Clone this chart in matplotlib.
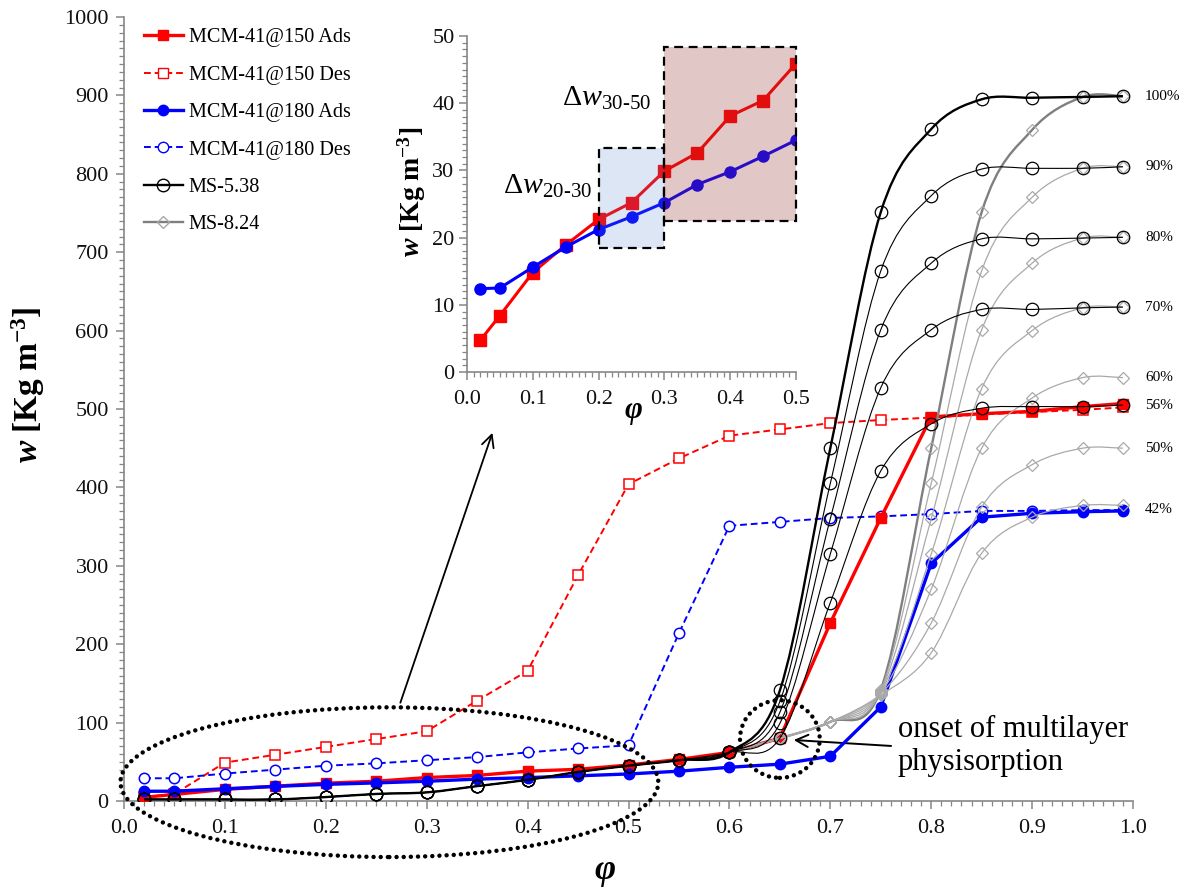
import matplotlib
matplotlib.use('Agg')
import matplotlib.pyplot as plt
import numpy as np
from matplotlib.path import Path
from matplotlib.patches import PathPatch, Ellipse, Rectangle
from matplotlib.lines import Line2D
from matplotlib.ticker import MultipleLocator

plt.rcParams['font.family'] = ['Liberation Serif', 'DejaVu Serif']
plt.rcParams['mathtext.fontset'] = 'custom'
plt.rcParams['mathtext.rm'] = 'Liberation Serif'
plt.rcParams['mathtext.it'] = 'Liberation Serif:italic'
plt.rcParams['mathtext.bf'] = 'Liberation Serif:bold'
plt.rcParams['mathtext.bfit'] = 'Liberation Serif:bold:italic'

# relative humidity (phi) grid
phi = [0.02, 0.05, 0.10, 0.15, 0.20, 0.25, 0.30, 0.35, 0.40, 0.45, 0.50,
       0.55, 0.60, 0.65, 0.70, 0.75, 0.80, 0.85, 0.90, 0.95, 0.99]

# MCM-41 isotherms [Kg m-3]
mcm150_ads = [4.7, 8.4, 14.8, 18.9, 22.7, 25.2, 29.9, 32.6, 38.1, 40.4, 45.9,
              53, 62, 80, 227, 361, 490, 494, 497, 503, 507]
mcm150_des = [5, 9, 49, 59, 69, 79, 89, 128, 166, 288, 404,
              437, 466, 474, 482, 486, 489, 493, 496, 499, 502]
mcm180_ads = [12.4, 12.5, 15.6, 18.6, 21.2, 23.1, 25.2, 27.9, 29.8, 32.1, 34.5,
              38, 43, 47, 57, 120, 303, 362, 367, 369, 370]
mcm180_des = [29, 29, 35, 40, 45, 48, 52, 56, 62, 67, 71,
              214, 351, 356, 361, 363, 366, 370, 370, 371, 371]

# MS-5.38: common branch up to phi=0.60, then one branch per RH level
ms538_low = [2, 2, 2, 2, 5, 9, 11, 19, 27, 37, 45, 52, 62]
ms538_levels = ['100%', '90%', '80%', '70%', '56%']
ms538_high = [
    [141, 450, 751, 857, 895, 897, 898, 899],
    [127, 405, 676, 772, 806, 807, 807, 809],
    [113, 360, 601, 686, 717, 717, 718, 719],
    [99, 315, 527, 601, 627, 627, 629, 630],
    [80, 253, 421, 481, 501, 503, 503, 505],
]

# MS-8.24 from phi=0.60 on
ms824_levels = ['100%', '90%', '80%', '70%', '60%', '50%', '42%']
ms824 = [
    [62, 80, 101, 142, 450, 751, 856, 898, 899],
    [62, 80, 101, 141, 405, 676, 770, 807, 809],
    [62, 80, 101, 140, 360, 601, 686, 718, 719],
    [62, 80, 101, 139, 315, 526, 600, 629, 630],
    [62, 80, 101, 138, 270, 450, 514, 540, 540],
    [62, 80, 101, 137, 227, 375, 429, 450, 450],
    [62, 80, 101, 135, 189, 316, 362, 377, 377],
]

pct_labels = ['100%', '90%', '80%', '70%', '60%', '56%', '50%', '42%']

RED = '#ff0000'
BLUE = '#0000ff'
AXC = '#868686'


def smooth_path(xs, ys):
    # excel-like smoothed line: cubic bezier through the points
    pts = np.column_stack([xs, ys]).astype(float)
    n = len(pts)
    verts = [pts[0]]
    codes = [Path.MOVETO]
    for i in range(n - 1):
        p0 = pts[max(i - 1, 0)]
        p1 = pts[i]
        p2 = pts[i + 1]
        p3 = pts[min(i + 2, n - 1)]
        verts += [p1 + (p2 - p0) / 6, p2 - (p3 - p1) / 6, p2]
        codes += [Path.CURVE4] * 3
    return Path(verts, codes)


def style_axes(a, ymajor, yminor, xmajor, xminor):
    for s in ['top', 'right']:
        a.spines[s].set_visible(False)
    for s in ['left', 'bottom']:
        a.spines[s].set_color(AXC)
        a.spines[s].set_linewidth(1.2)
    a.xaxis.set_major_locator(MultipleLocator(xmajor))
    a.xaxis.set_minor_locator(MultipleLocator(xminor))
    a.yaxis.set_major_locator(MultipleLocator(ymajor))
    a.yaxis.set_minor_locator(MultipleLocator(yminor))
    a.tick_params(which='major', direction='out', length=6, width=1.1,
                  color=AXC, labelsize=16, labelcolor='#111111')
    a.tick_params(which='minor', direction='out', length=3.5, width=0.9, color=AXC)
    a.tick_params(axis='x', pad=7)
    a.tick_params(axis='y', pad=5)


fig = plt.figure(figsize=(11.92, 8.88), dpi=100)
ax = fig.add_axes([124 / 1192, 87 / 888, 1009 / 1192, 784 / 888])
ax.set_xlim(0, 1)
ax.set_ylim(0, 1000)
style_axes(ax, 100, 10, 0.1, 0.01)
ax.xaxis.set_major_formatter(matplotlib.ticker.FormatStrFormatter('%.1f'))

# MCM-41 series
ax.plot(phi, mcm150_des, color=RED, lw=1.4, ls=(0, (3.5, 2)), marker='s', ms=7.5,
        mfc='white', mec=RED, mew=1.1, zorder=3)
ax.plot(phi, mcm180_des, color=BLUE, lw=1.4, ls=(0, (3.5, 2)), marker='o', ms=7.5,
        mfc='white', mec=BLUE, mew=1.1, zorder=3)
ax.plot(phi, mcm150_ads, color=RED, lw=2.4, marker='s', ms=7.5, zorder=4)
ax.plot(phi, mcm180_ads, color=BLUE, lw=2.4, marker='o', ms=7.5, zorder=4)

# MS-8.24 smoothed curves
phi_hi = phi[12:]
for i, ys in enumerate(ms824):
    main = i == 0
    col = '#7f7f7f' if main else '#a9a9a9'
    ax.add_patch(PathPatch(smooth_path(phi_hi, ys), fill=False, ec=col,
                           lw=1.7 if main else 0.9, zorder=5))
    ax.plot(phi_hi[1:], ys[1:], ls='none', marker='D', ms=6.5, mfc='none',
            mec='#a9a9a9', mew=0.9, zorder=5)

# MS-5.38 smoothed curves
for i, hi in enumerate(ms538_high):
    ys = ms538_low + hi
    main = i == 0
    ax.add_patch(PathPatch(smooth_path(phi, ys), fill=False, ec='black',
                           lw=1.7 if main else 0.8, zorder=6))
    ax.plot(phi, ys, ls='none', marker='o', ms=9, mfc='none', mec='black',
            mew=0.9, zorder=6)

# RH labels at the right end of the curves
ends = {}
for lab, hi in zip(ms538_levels, ms538_high):
    ends[lab] = hi[-1]
for lab, ys in zip(ms824_levels, ms824):
    ends.setdefault(lab, ys[-1])
for lab in pct_labels:
    yv = ends[lab] - (5 if lab == '42%' else 0)
    ax.text(1.012, yv, lab, fontsize=11, ha='left', va='center', clip_on=False)

# annotations
ax.add_patch(Ellipse((0.263, 24), 0.533, 191, fill=False, ec='black', lw=3.2,
                     ls=(0, (0.01, 1.6)), capstyle='round', clip_on=False, zorder=7))
ax.add_patch(Ellipse((0.65, 79), 0.079, 99, fill=False, ec='black', lw=3.2,
                     ls=(0, (0.01, 1.6)), capstyle='round', clip_on=False, zorder=7))
ax.annotate('', xy=(0.366, 473), xytext=(0.273, 122),
            arrowprops=dict(arrowstyle='->', lw=1.3, color='black', mutation_scale=22))
ax.annotate('', xy=(0.661, 78), xytext=(0.763, 70),
            arrowprops=dict(arrowstyle='->', lw=1.4, color='black', mutation_scale=22))
ax.text(0.767, 70, 'onset of multilayer\nphysisorption', fontsize=22,
        ha='left', va='center', linespacing=1.2)

fig.text(605 / 1192, 1 - 870 / 888, 'φ', fontsize=26, fontweight='bold',
         fontstyle='italic', ha='center', va='center')
fig.text(28 / 1192, 1 - 385 / 888, r'$\mathbfit{w}\ \mathbf{[Kg\ m^{-3}]}$',
         fontsize=24, rotation=90, ha='center', va='center')

handles = [
    Line2D([], [], color=RED, lw=2.4, marker='s', ms=7.5),
    Line2D([], [], color=RED, lw=1.4, ls=(0, (3.5, 2)), marker='s', ms=7.5,
           mfc='white', mec=RED),
    Line2D([], [], color=BLUE, lw=2.4, marker='o', ms=7.5),
    Line2D([], [], color=BLUE, lw=1.4, ls=(0, (3.5, 2)), marker='o', ms=7.5,
           mfc='white', mec=BLUE),
    Line2D([], [], color='black', lw=1.7, marker='o', ms=9, mfc='none', mec='black'),
    Line2D([], [], color='#7f7f7f', lw=1.7, marker='D', ms=6.5, mfc='none',
           mec='#a9a9a9'),
]
labels = ['MCM-41@150 Ads', 'MCM-41@150 Des', 'MCM-41@180 Ads',
          'MCM-41@180 Des', 'MS-5.38', 'MS-8.24']
fig.legend(handles, labels, loc='upper left', bbox_to_anchor=(144 / 1192, 1 - 28 / 888),
           frameon=False, fontsize=14.6, handlelength=1.9, handletextpad=0.3,
           labelspacing=0.9, borderpad=0, borderaxespad=0)

# inset: low humidity region
axi = fig.add_axes([467 / 1192, (888 - 372) / 888, 329 / 1192, 336 / 888])
axi.set_xlim(0, 0.5)
axi.set_ylim(0, 50)
style_axes(axi, 10, 1, 0.1, 0.01)
axi.tick_params(axis='y', pad=3)
axi.xaxis.set_major_formatter(matplotlib.ticker.FormatStrFormatter('%.1f'))
axi.plot(phi[:11], mcm150_ads[:11], color=RED, lw=2.2, marker='s', ms=8.5, zorder=3)
axi.plot(phi[:11], mcm180_ads[:11], color=BLUE, lw=2.2, marker='o', ms=8, zorder=3)
axi.add_patch(Rectangle((0.2, 18.4), 0.1, 15.0, fc=(80 / 255, 130 / 255, 205 / 255, 0.2),
                        ec='black', lw=1.6, ls=(0, (4, 2.5)), zorder=4))
axi.add_patch(Rectangle((0.3, 22.5), 0.2, 25.8, fc=(150 / 255, 51 / 255, 51 / 255, 0.27),
                        ec='black', lw=1.6, ls=(0, (4, 2.5)), zorder=4, clip_on=False))
axi.text(0.144, 39.6, r'$\Delta w_{30\text{-}50}$', fontsize=21.5, ha='left', va='baseline')
axi.text(0.055, 26.5, r'$\Delta w_{20\text{-}30}$', fontsize=21.5, ha='left', va='baseline')
fig.text(412 / 1192, 1 - 192 / 888, r'$\mathbfit{w}\ \mathbf{[Kg\ m^{-3}]}$',
         fontsize=20, rotation=90, ha='center', va='center')
fig.text(633 / 1192, 1 - 410 / 888, 'φ', fontsize=22, fontweight='bold',
         fontstyle='italic', ha='center', va='center')

fig.savefig('out.png', dpi=100)
